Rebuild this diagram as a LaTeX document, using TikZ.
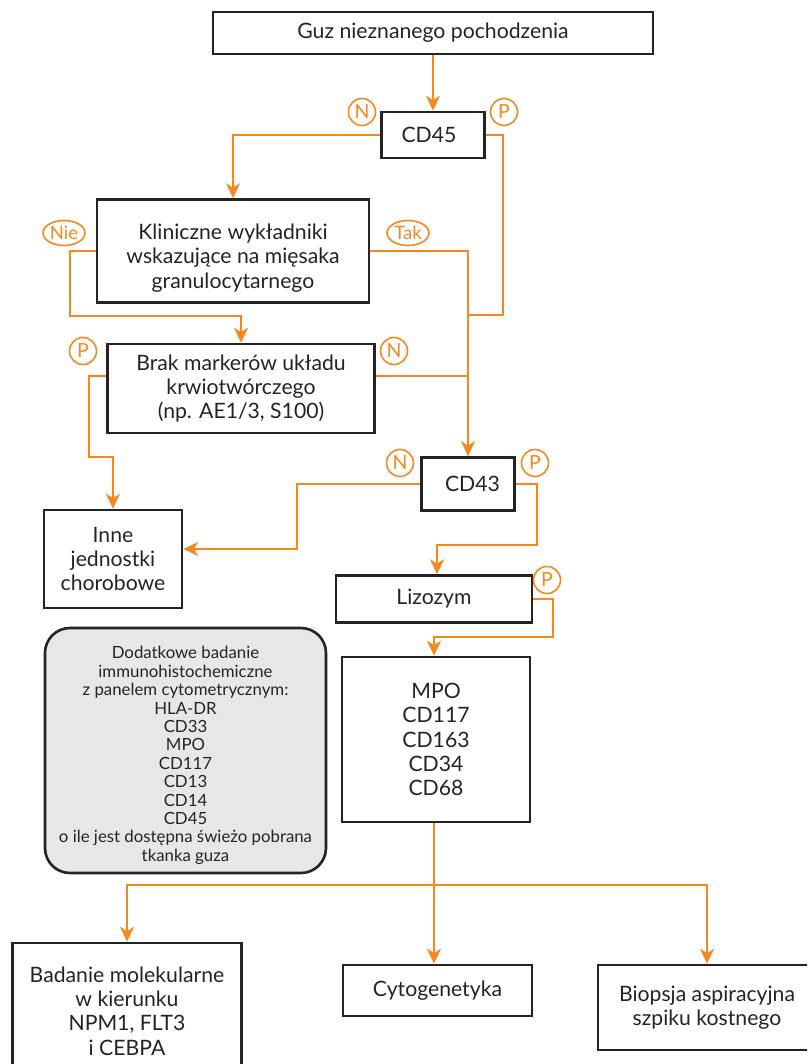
\documentclass[tikz,border=0pt]{standalone}
\usepackage{fontspec}
\setmainfont{Lato}
\usetikzlibrary{arrows.meta,shapes.geometric}
\definecolor{org}{HTML}{F7871F}
\definecolor{bdr}{HTML}{262324}
\definecolor{gry}{HTML}{E6E7E8}
\begin{document}
\begin{tikzpicture}[x=1pt,y=-1pt,
  box/.style={draw=bdr, line width=2.6pt, fill=white, align=center, inner sep=0pt,
    text=bdr, font=\fontsize{21.2}{24.2}\selectfont},
  txt/.style={align=center, inner sep=0pt, text=bdr, font=\fontsize{21.2}{24.2}\selectfont},
  conn/.style={draw=org, line width=2.2pt},
  arr/.style={conn, -{Stealth[length=15pt,width=14pt,inset=4.5pt]}},
  lbl/.style={draw=org, line width=1.6pt, circle, fill=white, text=org, inner sep=0pt,
    minimum size=27pt, font=\fontsize{19.5}{19.5}\selectfont},
  lble/.style={draw=org, line width=1.6pt, ellipse, fill=white, text=org, inner sep=0pt,
    minimum width=42pt, minimum height=25pt, font=\fontsize{18.5}{18.5}\selectfont},
  note/.style={draw=bdr, line width=2.6pt, fill=gry, rounded corners=25pt, inner sep=0pt},
  notetxt/.style={align=center, inner sep=0pt, text=bdr, font=\fontsize{16.8}{18.4}\selectfont}
]
\useasboundingbox (0,0) rectangle (807,1064);
\clip (0,0) rectangle (807,1064);

% boxes
\node[box, minimum width=440, minimum height=42] (guz) at (433,33) {Guz nieznanego pochodzenia};
\node[box, minimum width=103, minimum height=46] (cd45) at (433,135) {\hspace*{-8pt}CD45};
\node[box, minimum width=272, minimum height=103] (klin) at (233,251) {};
\node[txt] (klintxt) at ([yshift=-7pt]klin.center) {Kliniczne wykładniki\\wskazujące na mięsaka\\granulocytarnego};
\node[box, minimum width=267, minimum height=89] (brak) at (241,388.5) {Brak markerów układu\\krwiotwórczego\\(np. AE1/3, S100)};
\node[box, minimum width=93, minimum height=53] (cd43) at (468,484) {\hspace*{9pt}CD43};
\node[box, minimum width=138, minimum height=98] (inne) at (113,559) {Inne\\jednostki\\chorobowe};
\node[box, minimum width=196, minimum height=47] (lizo) at (434,599) {Lizozym};
\node[box, minimum width=188, minimum height=165] (mpo) at (436,739.5) {MPO\\CD117\\CD163\\CD34\\CD68};
\node[note, minimum width=281, minimum height=245] (dod) at (185.5,750.5) {};
\node[notetxt] (dodtxt) at ([yshift=-5pt]dod.center) {Dodatkowe badanie\\immunohistochemiczne\\z panelem cytometrycznym:\\HLA-DR\\CD33\\MPO\\CD117\\CD13\\CD14\\CD45\\o ile jest dostępna świeżo pobrana\\tkanka guza};
\node[box, minimum width=229, minimum height=136] (bad) at (127,1011) {Badanie molekularne\\w kierunku\\NPM1, FLT3\\i CEBPA};
\node[box, minimum width=189, minimum height=51] (cyto) at (437.5,990.5) {Cytogenetyka};
\node[box, minimum width=218, minimum height=85] (bio) at (707,1007.5) {Biopsja aspiracyjna\\szpiku kostnego};

% labels
\node[lbl] (n45) at (362,112) {N};
\node[lbl] (p45) at (504,112) {P};
\node[lble] (nie) at (64,233) {Nie};
\node[lble] (tak) at (408,233) {Tak};
\node[lbl] (pbr) at (83,351) {P};
\node[lbl] (nbr) at (394,351) {N};
\node[lbl] (n43) at (400,463) {N};
\node[lbl] (p43) at (535,463) {P};
\node[lbl] (pli) at (547,580) {P};

% helper coordinates
\coordinate (c45p) at (503,315);
\coordinate (cnie) at (70,316);
\coordinate (cbrp) at (89,457);
\coordinate (c43n) at (297,549);
\coordinate (c43p) at (537,545);
\coordinate (clip) at (553,637);
\coordinate (hb) at (0,885);

% connectors
\draw[arr] (guz) -- (cd45);
\draw[arr] (cd45.west) -| (klin.north);
\draw[conn] (cd45.east) -| (c45p) -- (c45p -| cd43.north);
\draw[arr] (klin.east) -| (cd43.north);
\draw[arr] (klin.west) -| (cnie) -| (brak.north);
\draw[conn] ([yshift=12.5pt]brak.east) -- ([yshift=12.5pt]brak.east -| cd43.north);
\draw[arr] ([yshift=12.5pt]brak.west) -| (cbrp) -| (inne.north);
\draw[arr] (cd43.west) -| (c43n) -- (c43n -| inne.east);
\draw[arr] (cd43.east) -| (c43p) -| ([xshift=3pt]lizo.north);
\draw[arr] (lizo.east) -| (clip) -| ([xshift=-2pt]mpo.north);
\draw[arr] ([xshift=-2pt]mpo.south) -- ([xshift=-2pt]mpo.south |- cyto.north);
\draw[arr] ([xshift=-2pt]mpo.south |- hb) -| (bad.north);
\draw[arr] ([xshift=-2pt]mpo.south |- hb) -| (bio.north);
\end{tikzpicture}
\end{document}
